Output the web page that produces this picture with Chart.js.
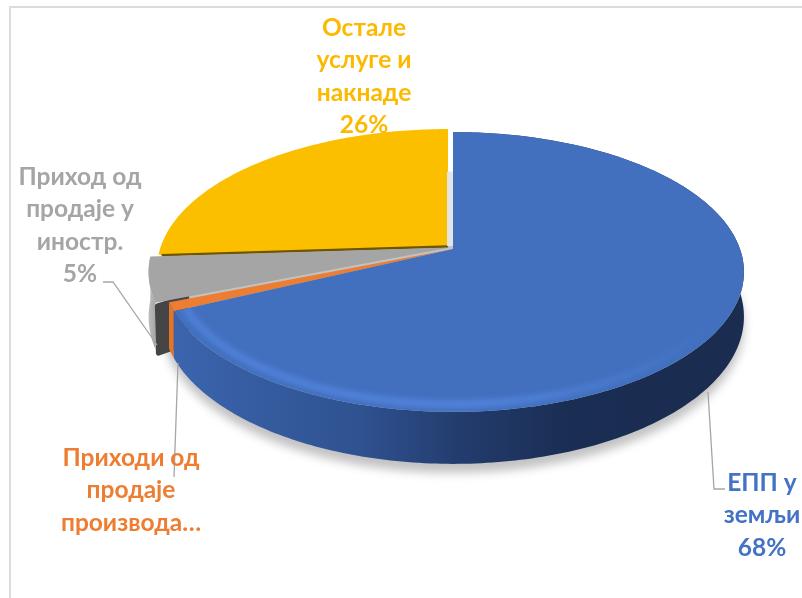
<!DOCTYPE html>
<html>
<head>
<meta charset="utf-8">
<script src="https://cdn.jsdelivr.net/npm/chart.js@4"></script>
<style>
  html, body { margin: 0; padding: 0; background: #fff; }
  canvas { display: block; }
</style>
</head>
<body>
<canvas id="revenueChart" width="802" height="598"></canvas>
<script>
// data
const categories = ['ЕПП у земљи', 'Приходи од продаје производа…', 'Приход од продаје у иностр.', 'Остале услуге и накнаде'];
const shares = [68, 1, 5, 26];
const labelLines = [
  ['ЕПП у', 'земљи', '68%'],
  ['Приходи од', 'продаје', 'производа…'],
  ['Приход од', 'продаје у', 'иностр.', '5%'],
  ['Остале', 'услуге и', 'накнаде', '26%']
];
const sliceColors = ['#4270bf', '#ed7d31', '#a5a5a5', '#fbbf00'];
const labelColors = ['#4472c4', '#ed7d31', '#a5a5a5', '#fdb900'];

// label layout
const labelX = [762, 131, 80, 364];
const labelY = [483, 458, 177, 28];
const lineGap = 32.5;
const leaders = [
  [[708, 392], [714, 489], [725, 489]],
  [[178, 363], [174, 477]],
  [[103, 282], [113, 282], [157, 345]]
];

// pie seen in perspective: disc -> screen
const view = { cx: 452, k: 287, a: 95.3, b: 249, c: -0.164, depth: 43.5 };
const pullX = [1, 1, -2, -4];
const pullY = [0, 0, -1.5, -3];
const radiusScale = [1, 1, 1.035, 1];

function project(theta, r, i, down) {
  const u = r * Math.cos(theta), v = r * Math.sin(theta);
  const w = 1 + view.c * v;
  return [
    view.cx + pullX[i] + view.k * u / w,
    (view.a * v + view.b) / w + pullY[i] + (down ? view.depth / w : 0)
  ];
}

function arcPoints(start, end, r, i, down) {
  const pts = [];
  const n = Math.max(4, Math.ceil((end - start) * 60));
  for (let s = 0; s <= n; s++) pts.push(project(start + (end - start) * s / n, r, i, down));
  return pts;
}

function tracePath(ctx, pts) {
  ctx.beginPath();
  pts.forEach((p, n) => n ? ctx.lineTo(p[0], p[1]) : ctx.moveTo(p[0], p[1]));
  ctx.closePath();
}

function wallFill(ctx, i) {
  if (i === 0) {
    const g = ctx.createLinearGradient(180, 0, 740, 0);
    g.addColorStop(0, '#3b64ad');
    g.addColorStop(0.32, '#2f5290');
    g.addColorStop(0.5, '#233c6e');
    g.addColorStop(0.7, '#1a2d52');
    g.addColorStop(1, '#1a2c50');
    return g;
  }
  if (i === 2) {
    const g = ctx.createLinearGradient(148, 0, 160, 0);
    g.addColorStop(0, '#c0c0c0');
    g.addColorStop(1, '#959595');
    return g;
  }
  return '#e2742b';
}

const pie3d = {
  id: 'pie3d',
  beforeDatasetsDraw(chart) {
    const ctx = chart.ctx;
    const arcs = chart.getDatasetMeta(0).data;
    const order = [3, 2, 1, 0];

    // frame of the pasted picture
    ctx.save();
    ctx.strokeStyle = '#dcdcdc';
    ctx.lineWidth = 2;
    ctx.beginPath();
    ctx.moveTo(10, 598);
    ctx.lineTo(10, 7);
    ctx.lineTo(802, 7);
    ctx.stroke();
    ctx.restore();

    // soft shadow under the pie
    ctx.save();
    ctx.filter = 'blur(5px)';
    ctx.fillStyle = 'rgba(0,0,0,0.24)';
    const sil = arcPoints(0, Math.PI * 2, 1, 0, true).map(p => [p[0], p[1] + 9]);
    tracePath(ctx, sil);
    ctx.fill();
    ctx.restore();

    order.forEach(i => {
      const arc = arcs[i];
      const r = radiusScale[i];
      const top = arcPoints(arc.startAngle, arc.endAngle, r, i, false);
      const low = arcPoints(arc.startAngle, arc.endAngle, r, i, true);

      // side wall (the yellow one faces away)
      if (i !== 3) {
        ctx.fillStyle = wallFill(ctx, i);
        tracePath(ctx, top.concat(low.reverse()));
        ctx.fill();
      }

      // dark cut face of the grey slice, seen past the orange one
      if (i === 2) {
        const a = project(arc.startAngle, r, i, false);
        const b = project(arc.startAngle, r * 0.9, i, false);
        const c = project(arc.startAngle, r * 0.9, i, true);
        const d = project(arc.startAngle, r, i, true);
        ctx.save();
        ctx.fillStyle = '#454545';
        ctx.strokeStyle = '#454545';
        ctx.lineWidth = 5;
        ctx.lineJoin = 'round';
        tracePath(ctx, [[a[0] + 2, a[1] + 3], b, c, [d[0] + 3, d[1] + 4]]);
        ctx.stroke();
        ctx.fill();
        ctx.restore();
      }

      // light sliver in the gap next to the blue slice
      if (i === 0) {
        const a = project(arc.startAngle, 0, 3, false);
        const b = project(arc.startAngle, 0.6, 3, false);
        ctx.fillStyle = '#e4e4e4';
        ctx.fillRect(a[0] - 1, b[1], 6, a[1] - b[1]);
      }

      // top face
      const apex = project(0, 0, i, false);
      const face = [apex].concat(top);
      ctx.fillStyle = sliceColors[i];
      tracePath(ctx, face);
      ctx.fill();

      // dark seam under the yellow slice
      if (i === 3) {
        ctx.save();
        ctx.strokeStyle = '#6e5500';
        ctx.lineWidth = 2.5;
        ctx.beginPath();
        ctx.moveTo(apex[0], apex[1] + 0.5);
        ctx.lineTo(top[0][0] + 3, top[0][1] + 0.5);
        ctx.stroke();
        ctx.restore();
      }

      // bevel highlight along the front rim
      if (i === 0) {
        ctx.save();
        tracePath(ctx, face);
        ctx.clip();
        ctx.filter = 'blur(3px)';
        const g = ctx.createLinearGradient(180, 0, 720, 0);
        g.addColorStop(0, 'rgba(94,144,238,0.75)');
        g.addColorStop(0.55, 'rgba(94,144,238,0.9)');
        g.addColorStop(1, 'rgba(94,144,238,0)');
        ctx.strokeStyle = g;
        ctx.lineWidth = 5;
        const rim = arcPoints(0.5, 2.72, 0.96, 0, false);
        ctx.beginPath();
        rim.forEach((p, n) => n ? ctx.lineTo(p[0], p[1]) : ctx.moveTo(p[0], p[1]));
        ctx.stroke();
        ctx.restore();
      }
    });

    // leader lines
    ctx.strokeStyle = '#a6a6a6';
    ctx.lineWidth = 1.3;
    leaders.forEach(line => {
      ctx.beginPath();
      line.forEach((p, n) => n ? ctx.lineTo(p[0], p[1]) : ctx.moveTo(p[0], p[1]));
      ctx.stroke();
    });

    // data labels
    ctx.font = 'bold 24.5px Lato, "Noto Sans", sans-serif';
    ctx.textAlign = 'center';
    ctx.textBaseline = 'middle';
    labelLines.forEach((lines, i) => {
      ctx.fillStyle = labelColors[i];
      lines.forEach((txt, n) => ctx.fillText(txt, labelX[i], labelY[i] + n * lineGap));
    });
    return false;
  }
};

new Chart(document.getElementById('revenueChart'), {
  type: 'pie',
  data: {
    labels: categories,
    datasets: [{ label: 'Приходи', data: shares, backgroundColor: sliceColors, borderWidth: 0 }]
  },
  options: {
    responsive: false,
    animation: false,
    plugins: {
      legend: { display: false },
      tooltip: { enabled: false }
    }
  },
  plugins: [pie3d]
});
</script>
</body>
</html>
